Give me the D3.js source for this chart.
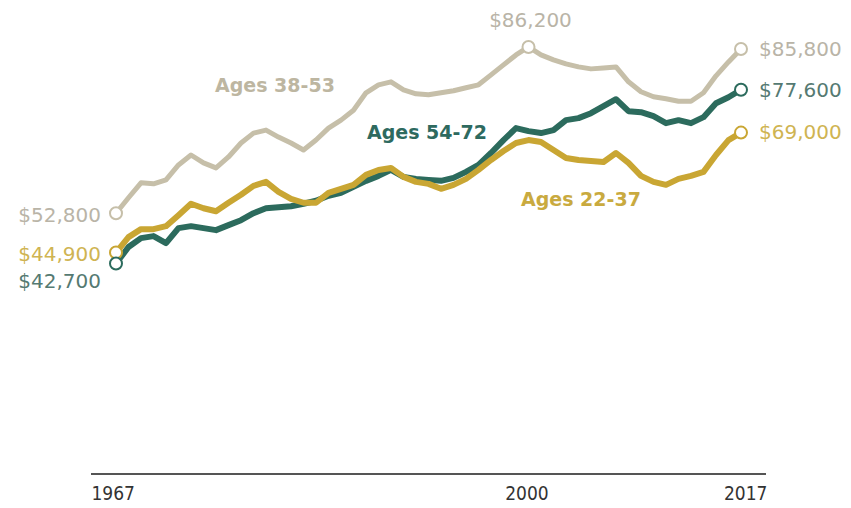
<!DOCTYPE html>
<html>
<head>
<meta charset="utf-8">
<script src="https://cdn.jsdelivr.net/npm/d3@7/dist/d3.min.js"></script>
<style>
  html, body { margin: 0; padding: 0; background: #fff; }
  svg { display: block; }
  .val { font-family: "DejaVu Sans", "Open Sans", sans-serif; font-size: 20px; }
  .lab { font-family: "DejaVu Sans", "Roboto", sans-serif; font-size: 19px; font-weight: 700; }
  .tick { font-family: "Liberation Sans Narrow", "DejaVu Sans Condensed", "Liberation Sans", sans-serif; font-size: 19px; fill: #333; }
</style>
</head>
<body>
<script>
// Median household income by age group of household head, 1967-2017 (thousands of dollars)
const years = d3.range(1967, 2018);

const ages38to53 = [
  52.8, 55.9, 58.9, 58.7, 59.5, 62.5, 64.5, 62.9, 61.9, 64.1,
  66.9, 68.9, 69.5, 68.1, 66.9, 65.5, 67.5, 69.9, 71.5, 73.5,
  77.0, 78.6, 79.2, 77.6, 76.8, 76.6, 77.0, 77.4, 78.0, 78.6,
  80.6, 82.6, 84.6, 86.2, 84.6, 83.6, 82.8, 82.2, 81.8, 82.0,
  82.2, 79.2, 77.2, 76.2, 75.8, 75.3, 75.3, 77.0, 80.4, 83.2,
  85.8
];

const ages54to72 = [
  42.7, 46.0, 47.8, 48.2, 46.8, 49.8, 50.2, 49.8, 49.4, 50.4,
  51.4, 52.8, 53.8, 54.0, 54.2, 54.7, 55.3, 56.3, 56.9, 58.1,
  59.3, 60.3, 61.5, 60.1, 59.7, 59.5, 59.3, 59.9, 61.1, 62.5,
  64.9, 67.5, 69.9, 69.3, 68.9, 69.5, 71.5, 71.9, 72.9, 74.3,
  75.7, 73.3, 73.1, 72.3, 70.9, 71.5, 70.9, 72.1, 74.9, 76.1,
  77.6
];

const ages22to37 = [
  44.9, 48.0, 49.6, 49.6, 50.2, 52.4, 54.7, 53.8, 53.2, 54.9,
  56.5, 58.3, 59.1, 57.1, 55.7, 54.9, 54.9, 56.9, 57.7, 58.5,
  60.5, 61.5, 61.9, 60.1, 59.1, 58.7, 57.7, 58.5, 59.7, 61.5,
  63.5, 65.3, 66.9, 67.5, 67.1, 65.5, 63.9, 63.5, 63.3, 63.1,
  64.9, 62.9, 60.3, 59.1, 58.5, 59.7, 60.3, 61.1, 64.5, 67.5,
  69.0
];

const tickYears = [1967, 2000, 2017];

const W = 851, H = 508;
const svg = d3.select("body").append("svg").attr("width", W).attr("height", H);

const x = d3.scaleLinear().domain([1967, 2017]).range([116, 741]);
const y = d3.scaleLinear().domain([0, 90]).range([476, 476 - 90 * 4.977]);

const fmt = v => "$" + d3.format(",")(Math.round(v * 1000));

// Baseline axis
const axis = d3.axisBottom(x).tickValues(tickYears).tickSize(0).tickFormat(d3.format("d"));
const axG = svg.append("g").attr("transform", "translate(0,474)").call(axis);
axG.select(".domain").remove();
axG.append("line").attr("x1", 91).attr("x2", 766).attr("y1", 0).attr("y2", 0)
  .attr("stroke", "#555").attr("stroke-width", 2);
axG.selectAll(".tick text")
  .attr("class", "tick")
  .attr("y", 13)
  .attr("dy", "0.71em")
  .attr("text-anchor", d => d === 1967 ? "start" : d === 2017 ? "end" : "middle")
  .attr("x", d => d === 1967 ? -25 : d === 2017 ? 26 : -2);

const series = [
  { name: "Ages 38-53", values: ages38to53, color: "#c6bfa9", text: "#bdb6a1", width: 5,
    label: { x: 215, y: 85 } },
  { name: "Ages 54-72", values: ages54to72, color: "#2c6b5d", text: "#2e6a5f", width: 6,
    label: { x: 367, y: 132 } },
  { name: "Ages 22-37", values: ages22to37, color: "#c9a633", text: "#c9aa3f", width: 6,
    label: { x: 521, y: 199 } }
];

const line = d3.line()
  .x((d, i) => x(years[i]))
  .y(d => y(d));

series.forEach(s => {
  svg.append("path")
    .datum(s.values)
    .attr("fill", "none")
    .attr("stroke", s.color)
    .attr("stroke-width", s.width)
    .attr("stroke-linejoin", "round")
    .attr("stroke-linecap", "round")
    .attr("d", line);
});

// Endpoint markers
const markers = [
  { s: 0, i: 0 }, { s: 2, i: 0 }, { s: 1, i: 0 },
  { s: 0, i: 33 },
  { s: 0, i: 50 }, { s: 1, i: 50 }, { s: 2, i: 50 }
];
markers.forEach(m => {
  const s = series[m.s];
  svg.append("circle")
    .attr("cx", x(years[m.i]))
    .attr("cy", y(s.values[m.i]))
    .attr("r", 6)
    .attr("fill", "#fff")
    .attr("stroke", s.color)
    .attr("stroke-width", 2);
});

// Value labels
const valueLabels = [
  { s: 0, i: 0, anchor: "end", dx: -15, dy: 2 },
  { s: 2, i: 0, anchor: "end", dx: -15, dy: 1 },
  { s: 1, i: 0, anchor: "end", dx: -15, dy: 18 },
  { s: 0, i: 33, anchor: "middle", dx: 2, dy: -27 },
  { s: 0, i: 50, anchor: "start", dx: 18, dy: 0 },
  { s: 1, i: 50, anchor: "start", dx: 18, dy: 0 },
  { s: 2, i: 50, anchor: "start", dx: 18, dy: -1 }
];
const valueColors = ["#b9b4a7", "#557a72", "#cfb452"];
valueLabels.forEach(v => {
  const s = series[v.s];
  svg.append("text")
    .attr("class", "val")
    .attr("x", x(years[v.i]) + v.dx)
    .attr("y", y(s.values[v.i]) + v.dy)
    .attr("dy", "0.35em")
    .attr("text-anchor", v.anchor)
    .attr("fill", valueColors[v.s])
    .text(fmt(s.values[v.i]));
});

// Series name labels
series.forEach(s => {
  svg.append("text")
    .attr("class", "lab")
    .attr("x", s.label.x)
    .attr("y", s.label.y)
    .attr("dy", "0.35em")
    .attr("fill", s.text)
    .text(s.name);
});
</script>
</body>
</html>
